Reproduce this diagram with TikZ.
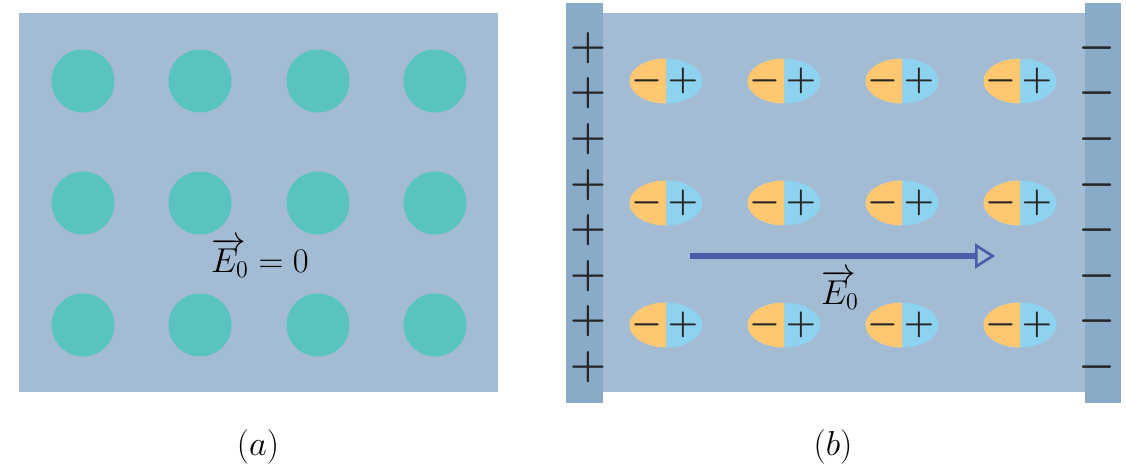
\documentclass[tikz,border=0pt]{standalone}
\usetikzlibrary{arrows.meta}
\definecolor{slab}{HTML}{A3BBD3}
\definecolor{plate}{HTML}{8AABC7}
\definecolor{atom}{HTML}{58C4BC}
\definecolor{negside}{HTML}{FFC870}
\definecolor{posside}{HTML}{8DD3F0}
\definecolor{field}{HTML}{4A5BAA}
\newcommand{\efield}{\rlap{$\overrightarrow{\phantom{E}}$}E_0}
\tikzset{
	charge/.style={inner sep=0,outer sep=0,text=black!85,font=\boldmath\fontsize{20}{22}\selectfont},
	dipole/.style={charge,font=\boldmath\fontsize{17}{19}\selectfont},
	label/.style={inner sep=0,font=\fontsize{18}{22}\selectfont}
}
\begin{document}
\begin{tikzpicture}[x=0.5pt,y=-0.5pt]
	\useasboundingbox (0,0) rectangle (1126,466);
	% (a) no field
	\fill[slab] (19,13) rectangle (498,392);
	\foreach \c [count=\i] in {83,200,318,435}
		\foreach \r [count=\j] in {81,203,325}
			\node[circle,fill=atom,inner sep=0,outer sep=0,minimum size=31.5pt] (atom\i\j) at (\c,\r) {};
	\node[label] (zero) at (260,258) {$\efield = 0$};
	\node[label] (capa) at (258,447) {$(a)$};
	% (b) field between plates
	\fill[slab] (603,13) rectangle (1085,392);
	\fill[plate] (566,3) rectangle (603,403);
	\fill[plate] (1085,3) rectangle (1121,403);
	\foreach \k in {0,...,7} {
		\node[charge] (plus\k) at (588,48+45.6*\k) {$+$};
		\node[charge] (minus\k) at (1097,48+45.6*\k) {$-$};
	}
	\foreach \c [count=\i] in {666,784,902,1020}
		\foreach \r [count=\j] in {81,203,325} {
			\fill[posside] (\c,\r) ellipse [x radius=18.25pt,y radius=11.25pt];
			\begin{scope}
				\clip (\c-40,\r-25) rectangle (\c,\r+25);
				\fill[negside] (\c,\r) ellipse [x radius=18.25pt,y radius=11.25pt];
			\end{scope}
			\node[dipole] (neg\i\j) at (\c-19,\r) {$-$};
			\node[dipole] (pos\i\j) at (\c+17,\r) {$+$};
		}
	\coordinate (tail) at (690,256);
	\coordinate (head) at (995,256);
	\draw[field,line width=2.8pt,-{Triangle[open,length=10pt,width=12.5pt,line width=1.3pt]}] (tail) -- (head);
	\node[label] (efield) at (840,290) {$\efield$};
	\node[label] (capb) at (833,447) {$(b)$};
\end{tikzpicture}
\end{document}
